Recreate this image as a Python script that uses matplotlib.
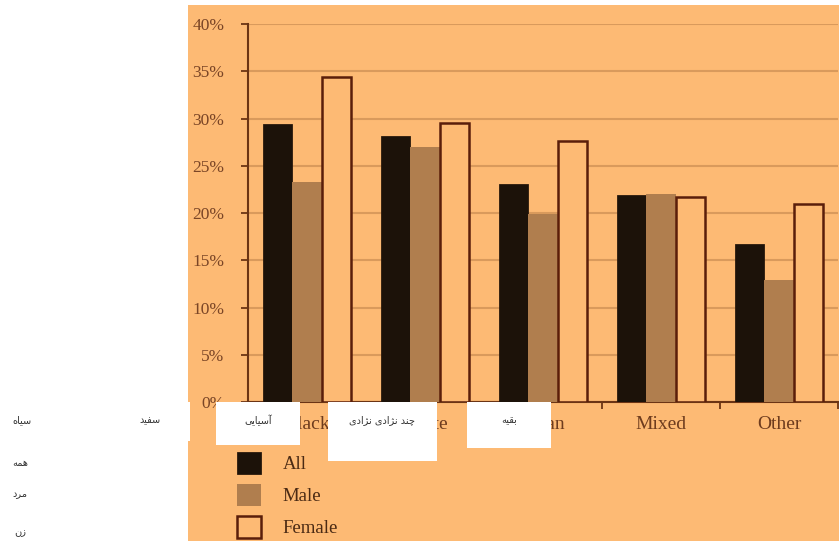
"""
Grouped bar chart: share by ethnic group (All / Male / Female), with Persian overlay labels.
"""

import numpy as np
import matplotlib
matplotlib.use("Agg")
import matplotlib.pyplot as plt
from matplotlib.patches import Rectangle

# data
categories = ["Black", "White", "Asian", "Mixed", "Other"]
all_values = [29.4, 28.2, 23.1, 21.9, 16.7]
male_values = [23.3, 27.0, 19.9, 22.0, 12.9]
female_values = [34.4, 29.5, 27.6, 21.7, 21.0]
series_names = ["All", "Male", "Female"]
y_ticks = [0, 5, 10, 15, 20, 25, 30, 35, 40]

# persian overlay labels (logical order)
fa_categories = ["سیاه", "سفید", "آسیایی", "چند نژادی نژادی", "بقیه"]
fa_series = ["همه", "مرد", "زن"]

ORANGE = "#FDBA74"
GRID = "#D99A5C"
SPINE = "#6B3414"
TEXT = "#6E3C1E"
C_ALL = "#1C1209"
C_MALE = "#B07E4E"
C_FEMALE_EDGE = "#5A1E0A"

# tiny arabic-script shaper: (isolated, final, initial, medial)
FORMS = {
    "ا": ("\uFE8D", "\uFE8E"), "آ": ("\uFE81", "\uFE82"),
    "د": ("\uFEA9", "\uFEAA"), "ر": ("\uFEAD", "\uFEAE"),
    "ز": ("\uFEAF", "\uFEB0"), "ژ": ("\uFB8A", "\uFB8B"),
    "ب": ("\uFE8F", "\uFE90", "\uFE91", "\uFE92"),
    "چ": ("\uFB7A", "\uFB7B", "\uFB7C", "\uFB7D"),
    "س": ("\uFEB1", "\uFEB2", "\uFEB3", "\uFEB4"),
    "ف": ("\uFED1", "\uFED2", "\uFED3", "\uFED4"),
    "ق": ("\uFED5", "\uFED6", "\uFED7", "\uFED8"),
    "م": ("\uFEE1", "\uFEE2", "\uFEE3", "\uFEE4"),
    "ن": ("\uFEE5", "\uFEE6", "\uFEE7", "\uFEE8"),
    "ه": ("\uFEE9", "\uFEEA", "\uFEEB", "\uFEEC"),
    "ی": ("\uFEEF", "\uFEF0", "\uFEF3", "\uFEF4"),
}


def shape(text):
    out = []
    for i, ch in enumerate(text):
        if ch not in FORMS:
            out.append(ch)
            continue
        prev = text[i - 1] if i > 0 else None
        nxt = text[i + 1] if i + 1 < len(text) else None
        join_prev = prev in FORMS and len(FORMS[prev]) == 4
        join_next = nxt in FORMS and len(FORMS[ch]) == 4
        f = FORMS[ch]
        if join_prev and join_next:
            out.append(f[3])
        elif join_prev:
            out.append(f[1])
        elif join_next:
            out.append(f[2])
        else:
            out.append(f[0])
    return "".join(reversed(out))


W, H = 839, 541
fig = plt.figure(figsize=(W / 100, H / 100), dpi=100)
fig.patch.set_facecolor("white")

# orange panel behind the chart
fig.patches.append(Rectangle((188 / W, 0), 1 - 188 / W, (H - 5) / H,
                             transform=fig.transFigure, facecolor=ORANGE,
                             edgecolor="none", zorder=-5))

ax = fig.add_axes([248 / W, (H - 402) / H, (838 - 248) / W, (402 - 24) / H])
ax.set_facecolor("none")
ax.set_zorder(1)

x = np.arange(len(categories))
bw = 0.25
b1 = ax.bar(x - bw, all_values, bw, color=C_ALL, edgecolor="#2a1a0c", linewidth=0.6, label=series_names[0], zorder=3)
b2 = ax.bar(x, male_values, bw, color=C_MALE, edgecolor="none", label=series_names[1], zorder=3)
b3 = ax.bar(x + bw, female_values, bw, color=ORANGE, edgecolor=C_FEMALE_EDGE, linewidth=1.8,
            label=series_names[2], zorder=3)

ax.set_xlim(-0.5, len(categories) - 0.5)
ax.set_ylim(0, 40)
ax.set_yticks(y_ticks)
ax.set_yticklabels([f"{v}%" for v in y_ticks])
ax.yaxis.grid(True, color=GRID, linewidth=1.5, zorder=0)
ax.set_axisbelow(True)

ax.set_xticks(x)
ax.set_xticklabels(categories)
ax.set_xticks(np.arange(len(categories)) + 0.5, minor=True)
ax.tick_params(axis="x", which="major", length=0, pad=10, labelsize=14, labelcolor=TEXT)
ax.tick_params(axis="x", which="minor", length=5, width=1.3, color=SPINE, direction="out")
ax.tick_params(axis="y", length=5, width=1.3, color=SPINE, pad=12, labelsize=12.5, labelcolor="#7A4526")
for lab in ax.get_xticklabels() + ax.get_yticklabels():
    lab.set_family("Liberation Serif")

for side in ["top", "right"]:
    ax.spines[side].set_visible(False)
for side in ["left", "bottom"]:
    ax.spines[side].set_color(SPINE)
    ax.spines[side].set_linewidth(1.5)

leg = fig.legend(handles=[b1, b2, b3], labels=series_names, loc="upper left",
                 bbox_to_anchor=(237 / W, (H - 452) / H), frameon=False,
                 prop={"family": "Liberation Serif", "size": 13.5},
                 handlelength=1.3, handleheight=1.45, handletextpad=1.15,
                 labelspacing=0.52, borderpad=0, borderaxespad=0)
for t in leg.get_texts():
    t.set_color("#4A2A14")

# white boxes with persian labels on top
boxes = [(100, 402, 90, 39), (216, 402, 84, 43), (328, 402, 109, 59), (467, 402, 84, 46)]
for bx, by, bwid, bh in boxes:
    fig.patches.append(Rectangle((bx / W, (H - by - bh) / H), bwid / W, bh / H,
                                 transform=fig.transFigure, facecolor="white",
                                 edgecolor="none", zorder=10))

fa_x = [22, 150, 258, 382, 509]
for xp, lab in zip(fa_x, fa_categories):
    fig.text(xp / W, (H - 420) / H, shape(lab), ha="center", va="center",
             fontsize=7, color="#333333", family="DejaVu Sans", zorder=11)

fa_y = [463, 494, 532]
for yp, lab in zip(fa_y, fa_series):
    fig.text(20 / W, (H - yp) / H, shape(lab), ha="center", va="center",
             fontsize=7, color="#333333", family="DejaVu Sans", zorder=11)

fig.savefig("out.png", dpi=100)
